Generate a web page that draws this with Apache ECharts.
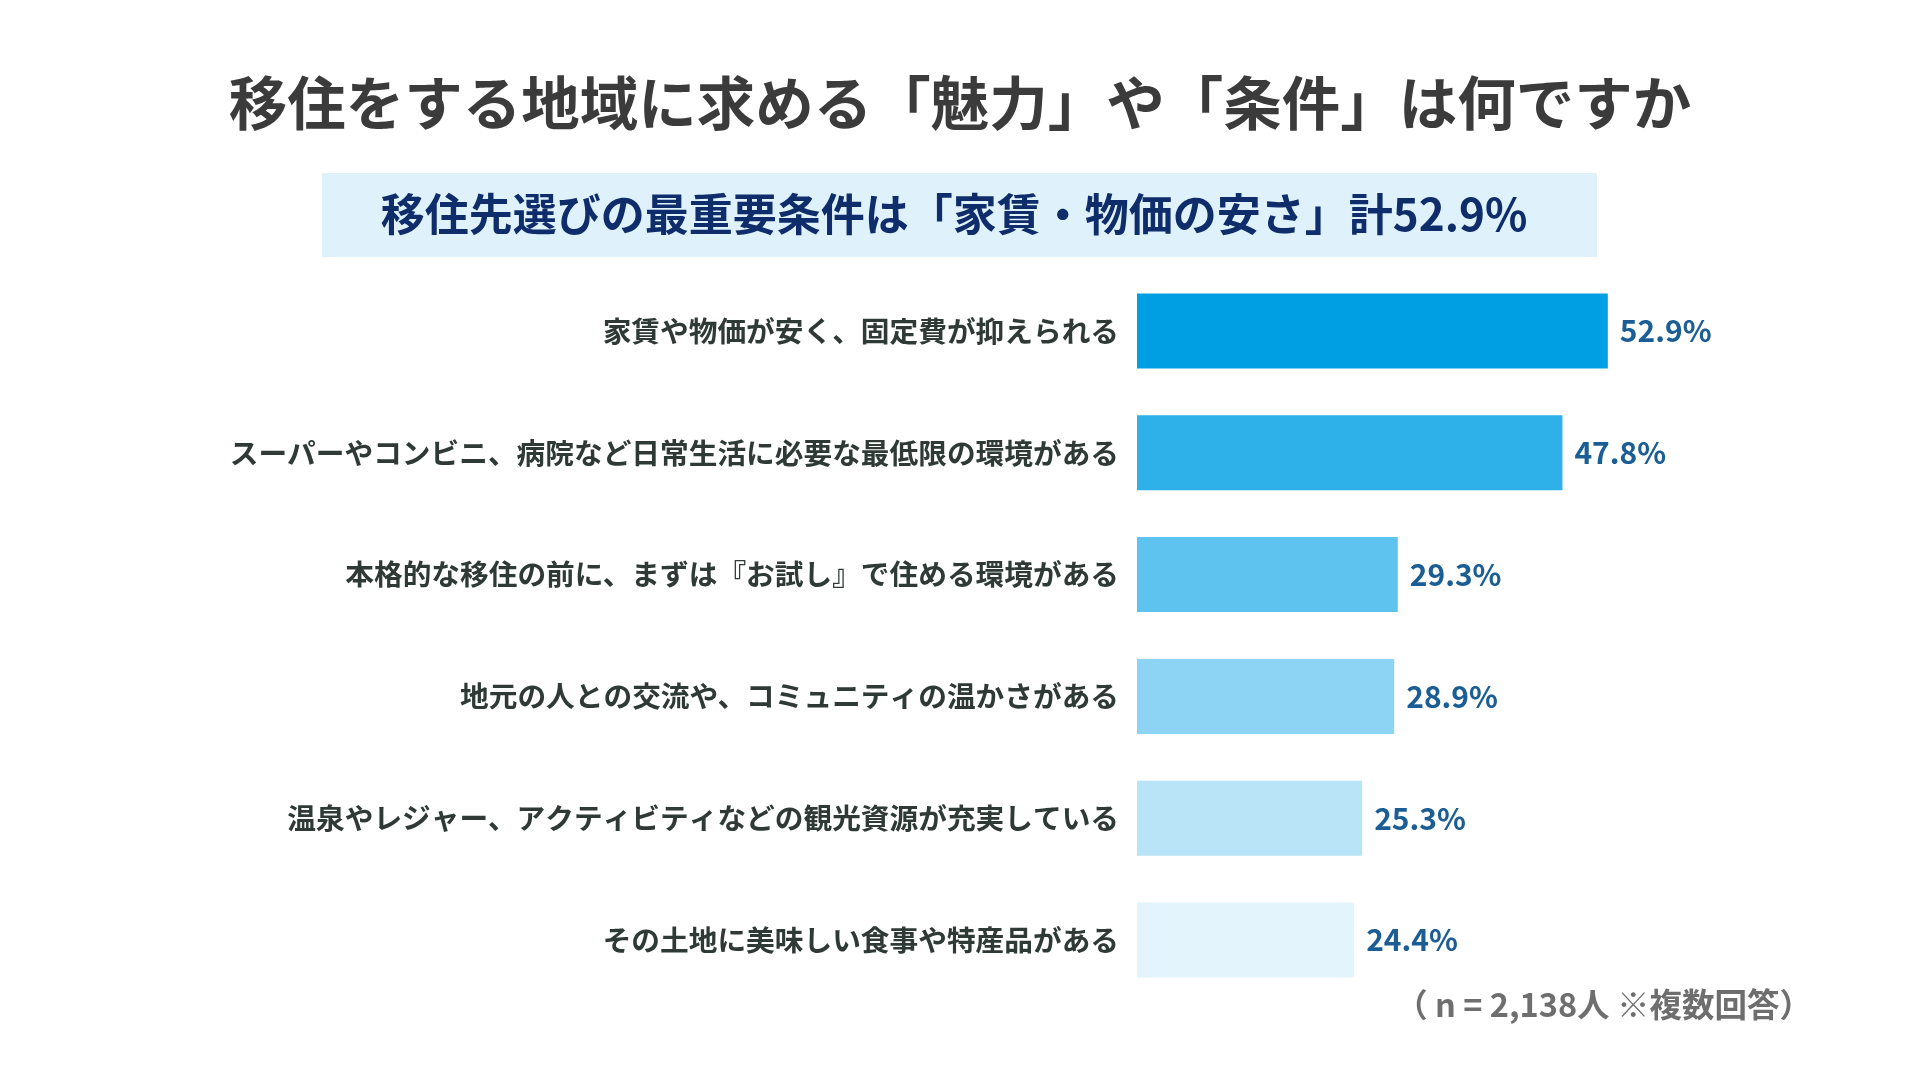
<!DOCTYPE html>
<html>
<head>
<meta charset="utf-8">
<title>移住をする地域に求める「魅力」や「条件」は何ですか</title>
<script src="https://cdn.jsdelivr.net/npm/echarts@6/dist/echarts.min.js"></script>
<style>
  html, body { margin: 0; padding: 0; background: #fff; }
  #main { width: 1920px; height: 1080px; }
</style>
</head>
<body>
<div id="main"></div>
<script>
// 項目と回答率（%）
var categories = [
    '家賃や物価が安く、固定費が抑えられる',
    'スーパーやコンビニ、病院など日常生活に必要な最低限の環境がある',
    '本格的な移住の前に、まずは『お試し』で住める環境がある',
    '地元の人との交流や、コミュニティの温かさがある',
    '温泉やレジャー、アクティビティなどの観光資源が充実している',
    'その土地に美味しい食事や特産品がある'
];
var rates = [52.9, 47.8, 29.3, 28.9, 25.3, 24.4];
var barColors = ['#009fe3', '#2db1e8', '#5fc3f0', '#8dd3f3', '#b9e4f7', '#e4f4fc'];

var titleText = '移住をする地域に求める「魅力」や「条件」は何ですか';
var headline = '移住先選びの最重要条件は「家賃・物価の安さ」計52.9%';
var note = '（ n = 2,138人 ※複数回答）';

var font = '"Noto Sans CJK JP", "Noto Sans", sans-serif';

var myChart = echarts.init(document.getElementById('main'));

var option = {
    backgroundColor: '#ffffff',
    textStyle: { fontFamily: font },
    title: {
        text: titleText,
        left: 'center',
        top: 69,
        textStyle: {
            fontFamily: font,
            fontSize: 58.5,
            fontWeight: 'bold',
            color: '#3b3b3b'
        }
    },
    graphic: [{
        type: 'rect',
        shape: { x: 322, y: 173, width: 1275, height: 84 },
        style: { fill: '#dff2fc' },
        z: 0
    }, {
        type: 'text',
        x: 954,
        y: 214,
        style: {
            text: headline,
            align: 'center',
            verticalAlign: 'middle',
            font: 'bold 44px ' + font,
            fill: '#0f2c6b'
        },
        z: 1
    }, {
        type: 'text',
        x: 1812,
        y: 1005,
        style: {
            text: note,
            align: 'right',
            verticalAlign: 'middle',
            font: 'bold 32.5px ' + font,
            fill: '#6e6e6e'
        }
    }],
    grid: {
        left: 1137,
        right: 249,
        top: 270,
        bottom: 79
    },
    xAxis: {
        type: 'value',
        min: 0,
        max: 60,
        show: false
    },
    yAxis: {
        type: 'category',
        inverse: true,
        data: categories,
        axisLine: { show: false },
        axisTick: { show: false },
        splitLine: { show: false },
        axisLabel: {
            margin: 18,
            fontFamily: font,
            fontSize: 28.7,
            fontWeight: 'bold',
            color: '#2f3a36'
        }
    },
    series: [{
        type: 'bar',
        barWidth: 75,
        data: rates.map(function(v, i) {
            return { value: v, itemStyle: { color: barColors[i] } };
        }),
        label: {
            show: true,
            position: 'right',
            distance: 12,
            formatter: '{c}%',
            fontFamily: font,
            fontSize: 30,
            fontWeight: 'bold',
            color: '#1b5e95'
        },
        animation: false
    }]
};

myChart.setOption(option);
</script>
</body>
</html>
